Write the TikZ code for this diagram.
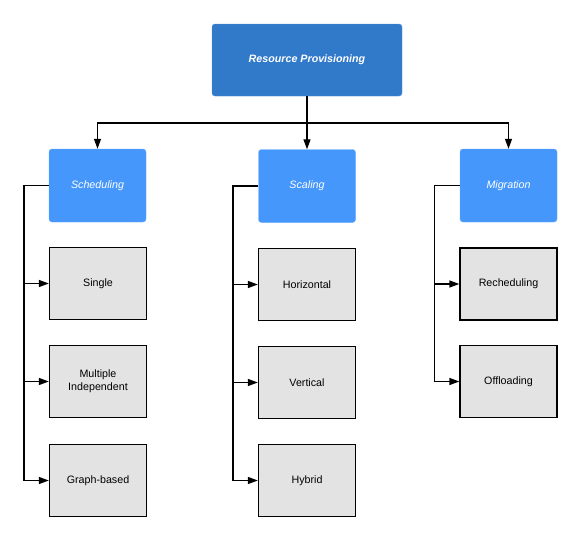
\documentclass[tikz,border=0pt]{standalone}
\usepackage{fontspec}
\setmainfont{Liberation Sans}
\usetikzlibrary{arrows.meta}
\definecolor{topblue}{HTML}{3179C9}
\definecolor{midblue}{HTML}{4697FC}
\definecolor{boxgray}{HTML}{E3E3E3}
\tikzset{
  x=1pt,y=1pt,
  every node/.style={font=\fontsize{10.7}{12.8}\selectfont, align=center, inner sep=0pt},
  topbox/.style={fill=topblue, draw=topblue!85!white, rounded corners=3pt, minimum width=190pt, minimum height=72pt, text=white, font=\fontsize{10.7}{12.8}\selectfont\bfseries\itshape},
  catbox/.style={fill=midblue, draw=midblue!85!white, rounded corners=3pt, minimum width=97pt, minimum height=73pt, text=white, font=\fontsize{10.7}{12.8}\selectfont\itshape},
  leafbox/.style={fill=boxgray, draw=black, line width=1.3pt, minimum width=97pt, minimum height=72pt, text=black},
  conn/.style={draw=black, line width=1.3pt},
  arr/.style={conn, -{Triangle[length=10pt,width=7pt]}}
}
\begin{document}
\begin{tikzpicture}
\useasboundingbox (0,0) rectangle (581,-541);
\node[topbox] (top) at (307,-60) {Resource Provisioning};
\node[catbox] (sched) at (97.5,-185.5) {Scheduling};
\node[catbox] (scal) at (307,-186) {Scaling};
\node[catbox] (migr) at (508.5,-185.5) {Migration};

\node[leafbox] (single) at (98,-283.5) {Single};
\node[leafbox] (multi) at (98,-381.5) {Multiple\\Independent};
\node[leafbox] (graph) at (98,-480.5) {Graph-based};

\node[leafbox] (horiz) at (307,-284.5) {Horizontal};
\node[leafbox] (vert) at (307,-382.5) {Vertical};
\node[leafbox] (hybr) at (307,-480.5) {Hybrid};

\node[leafbox] (resch) at (508.5,-284) {Recheduling};
\node[leafbox] (offl) at (508.5,-381.5) {Offloading};

\coordinate (bus) at (0,-123);
\coordinate (r1) at (24,0);
\coordinate (r2) at (233,0);
\coordinate (r3) at (434.5,0);

\draw[arr] (top.south) -- (scal.north);
\draw[arr] (top.south |- bus) -| (sched.north);
\draw[arr] (top.south |- bus) -| (migr.north);

\draw[arr] (sched.west) -| (r1 |- graph.west) -- (graph.west);
\draw[arr] (r1 |- single.west) -- (single.west);
\draw[arr] (r1 |- multi.west) -- (multi.west);

\draw[arr] (scal.west) -| (r2 |- hybr.west) -- (hybr.west);
\draw[arr] (r2 |- horiz.west) -- (horiz.west);
\draw[arr] (r2 |- vert.west) -- (vert.west);

\draw[arr] (migr.west) -| (r3 |- offl.west) -- (offl.west);
\draw[arr] (r3 |- resch.west) -- (resch.west);
\end{tikzpicture}
\end{document}
